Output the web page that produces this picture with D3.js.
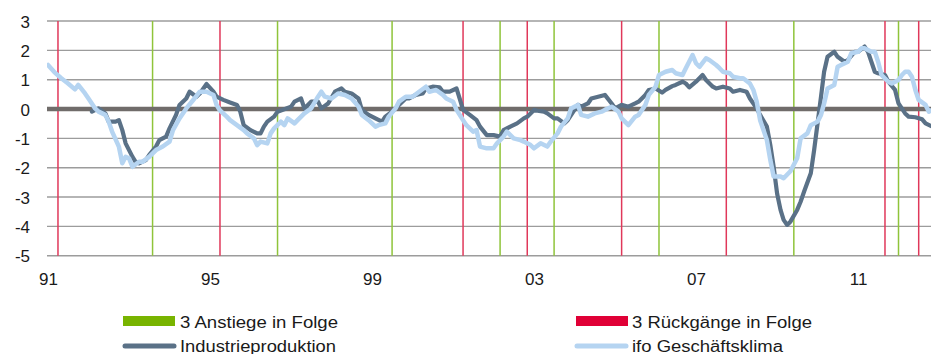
<!DOCTYPE html>
<html><head><meta charset="utf-8">
<script src="https://cdn.jsdelivr.net/npm/d3@7"></script>
<style>
html,body{margin:0;padding:0;background:#fff;}
svg{display:block;font-family:"Liberation Sans",Arial,sans-serif;}
</style></head>
<body><svg id="c" width="931" height="354"></svg>
<script>
// ---- data ----
const startYear = 1991;
const yTicks = [3, 2, 1, 0, -1, -2, -3, -4, -5];
const xTickYears = [1991, 1995, 1999, 2003, 2007, 2011];
const riseMonths = ["1993-08","1996-09","1999-07","2002-03","2003-07","2006-02","2009-06","2012-01"];
const fallMonths = ["1991-04","1995-04","2001-04","2002-11","2005-03","2007-10","2011-09","2012-07"];
const legendLabels = ["3 Anstiege in Folge","3 Rückgänge in Folge","Industrieproduktion","ifo Geschäftsklima"];

// months since Jan 1991
const prodMonths = [13,15,17,18,20,21,22,23,25,26,27,29,30,32,33,35,36,38,39,41,42,44,45,47,49,50,52,54,56,57,58,60,62,63,64,65,67,68,70,72,73,75,76,78,80,81,83,85,87,88,90,92,93,95,97,99,100,102,104,106,107,109,111,112,114,116,117,119,121,122,123,125,127,128,130,132,134,135,137,139,141,142,144,145,147,148,150,151,153,154,156,157,158,160,161,163,165,167,168,170,172,174,175,177,178,180,182,183,185,186,188,189,190,192,194,195,197,198,200,202,203,205,207,208,210,211,213,214,215,216,217,218,219,220,222,223,224,226,227,228,229,230,231,233,234,236,237,239,240,242,243,245,246,248,249,251,252,254,255,257,259,260,262];
const prodValues = [-0.09,0.02,-0.15,-0.43,-0.43,-0.38,-0.72,-1.17,-1.63,-1.80,-1.85,-1.74,-1.57,-1.28,-1.06,-0.94,-0.66,-0.20,0.14,0.36,0.59,0.42,0.53,0.85,0.59,0.42,0.31,0.22,0.14,-0.09,-0.55,-0.72,-0.83,-0.83,-0.60,-0.43,-0.26,-0.09,-0.01,0.08,0.25,0.36,0.02,0.25,0.25,0.02,0.19,0.59,0.70,0.59,0.53,0.36,-0.03,-0.20,-0.32,-0.43,-0.26,-0.09,0.14,0.36,0.36,0.48,0.53,0.70,0.76,0.74,0.59,0.59,0.70,0.36,-0.03,-0.20,-0.38,-0.60,-0.89,-0.89,-0.94,-0.72,-0.60,-0.49,-0.32,-0.26,-0.03,-0.06,-0.09,-0.15,-0.32,-0.32,-0.49,-0.38,-0.03,0.14,0.08,0.19,0.36,0.42,0.48,0.19,0.02,0.14,0.08,0.19,0.25,0.48,0.65,0.70,0.56,0.65,0.78,0.82,0.93,0.87,0.74,0.93,1.16,0.99,0.76,0.70,0.76,0.70,0.59,0.65,0.59,0.36,0.02,-0.20,-0.60,-1.23,-1.97,-2.88,-3.44,-3.78,-3.95,-3.84,-3.44,-3.16,-2.82,-2.19,-1.40,-0.49,0.42,1.27,1.78,1.95,1.78,1.61,1.67,1.95,1.95,2.13,1.95,1.27,1.22,1.16,0.93,0.65,0.19,-0.15,-0.26,-0.28,-0.35,-0.49,-0.60];

const ifoMonths = [0,2,4,6,8,9,11,12,14,15,17,18,19,21,22,23,24,25,27,28,30,32,34,36,37,39,41,43,45,47,49,50,51,53,54,56,58,59,61,62,63,65,66,67,69,70,71,73,74,76,78,80,81,82,84,86,88,90,92,93,95,97,98,100,101,103,104,106,108,110,112,113,115,117,118,120,121,123,124,126,127,128,130,132,133,135,136,138,140,141,143,144,146,148,149,151,152,154,155,157,158,160,162,164,165,167,169,170,172,174,175,177,178,180,181,183,185,186,188,189,191,192,193,195,196,198,199,200,202,203,205,206,208,209,210,211,213,214,215,217,218,220,222,223,225,226,228,229,230,231,233,234,235,237,238,240,241,242,244,245,246,247,249,250,252,253,254,255,256,257,258,260,261,262];
const ifoValues = [1.50,1.25,1.05,0.87,0.67,0.82,0.53,0.36,0.02,-0.09,-0.20,-0.43,-0.77,-1.28,-1.85,-1.63,-1.68,-1.97,-1.80,-1.80,-1.63,-1.40,-1.28,-1.11,-0.72,-0.32,0.02,0.30,0.59,0.59,0.48,0.14,-0.05,-0.26,-0.38,-0.55,-0.72,-0.83,-1.00,-1.23,-1.11,-1.17,-0.83,-0.66,-0.43,-0.55,-0.32,-0.49,-0.38,-0.15,0.02,0.42,0.59,0.42,0.36,0.53,0.48,0.36,0.08,-0.20,-0.38,-0.60,-0.55,-0.49,-0.26,0.02,0.25,0.42,0.42,0.59,0.76,0.59,0.65,0.48,0.36,0.25,-0.03,-0.38,-0.55,-0.77,-0.72,-1.28,-1.34,-1.34,-1.17,-0.94,-0.77,-1.00,-1.06,-1.11,-1.23,-1.34,-1.17,-1.28,-1.11,-0.83,-0.60,-0.32,0.02,0.14,-0.20,-0.26,-0.15,-0.09,-0.03,0.08,-0.09,-0.32,-0.55,-0.26,-0.20,0.14,0.48,0.76,1.16,1.27,1.33,1.22,1.16,1.39,1.84,1.56,1.44,1.73,1.67,1.50,1.39,1.27,1.22,1.10,1.05,1.05,0.87,0.65,0.25,-0.38,-1.06,-1.74,-2.30,-2.30,-2.36,-2.12,-1.68,-1.00,-0.83,-0.55,-0.43,-0.20,0.19,0.70,0.82,1.44,1.50,1.61,1.90,1.95,2.07,2.07,1.95,1.95,1.61,1.16,0.93,0.87,0.99,1.16,1.27,1.27,1.10,0.65,0.31,0.14,-0.09,-0.03];

// ---- chart ----
const svg = d3.select("#c");
const t0 = new Date(startYear, 0, 1);
const mDate = m => d3.timeMonth.offset(t0, m);
const parseM = d3.timeParse("%Y-%m");

const x = d3.scaleTime().domain([t0, new Date(2012, 9, 20)]).range([48, 931]);
const y = d3.scaleLinear().domain([-5, 3]).range([255.7, 21]);
const gridX0 = 47, gridX1 = 931;

svg.append("defs").append("clipPath").attr("id","clip")
  .append("rect").attr("x", gridX0).attr("y", 0).attr("width", gridX1 - gridX0).attr("height", 300);

// horizontal grid
svg.append("g").selectAll("line").data(yTicks.filter(d => d !== 0)).join("line")
  .attr("x1", gridX0).attr("x2", gridX1)
  .attr("y1", d => y(d)).attr("y2", d => y(d))
  .attr("stroke", "#9c9c9c").attr("stroke-width", 1.4);

// y labels
svg.append("g").selectAll("text").data(yTicks).join("text")
  .attr("x", 30).attr("y", d => y(d) + 6.5)
  .attr("text-anchor", "end").attr("font-size", 17).attr("fill", "#1a1a1a")
  .text(d => d);

// x axis labels
const xAxis = d3.axisBottom(x)
  .tickValues(xTickYears.map(yr => new Date(yr, 0, 1)))
  .tickFormat(d3.timeFormat("%y")).tickSize(0).tickPadding(0);
const gx = svg.append("g").attr("transform", "translate(0,272)").call(xAxis);
gx.select(".domain").remove();
gx.selectAll("text").attr("font-size", 17).attr("fill", "#1a1a1a")
  .attr("font-family", "'Liberation Sans',Arial,sans-serif").attr("dy", "0.75em");

// vertical event lines
svg.append("g").selectAll("line").data(riseMonths).join("line")
  .attr("x1", d => x(parseM(d))).attr("x2", d => x(parseM(d)))
  .attr("y1", y(3)).attr("y2", y(-5))
  .attr("stroke", "#8fc43a").attr("stroke-width", 1.5);
svg.append("g").selectAll("line").data(fallMonths).join("line")
  .attr("x1", d => x(parseM(d))).attr("x2", d => x(parseM(d)))
  .attr("y1", y(3)).attr("y2", y(-5))
  .attr("stroke", "#e0385a").attr("stroke-width", 1.5);

// zero line
svg.append("line").attr("x1", gridX0).attr("x2", gridX1)
  .attr("y1", y(0)).attr("y2", y(0))
  .attr("stroke", "#706c6a").attr("stroke-width", 4.5);

const line = d3.line().x(d => x(mDate(d[0]))).y(d => y(d[1]));
const plot = svg.append("g").attr("clip-path", "url(#clip)");
plot.append("path").datum(d3.zip(prodMonths, prodValues))
  .attr("d", line).attr("fill", "none")
  .attr("stroke", "#5a7187").attr("stroke-width", 4.2)
  .attr("stroke-linejoin", "round").attr("stroke-linecap", "round");
plot.append("path").datum(d3.zip(ifoMonths, ifoValues))
  .attr("d", line).attr("fill", "none")
  .attr("stroke", "#b5d4f1").attr("stroke-width", 4.5)
  .attr("stroke-linejoin", "round").attr("stroke-linecap", "round");

// legend
const lg = svg.append("g");
const items = [
  {type:"rect", color:"#78b400", x:123, tx:180, y:316, label:legendLabels[0], w:158},
  {type:"rect", color:"#e00036", x:576, tx:632, y:316, label:legendLabels[1], w:180},
  {type:"line", color:"#5a7187", x:123, tx:180, y:346, label:legendLabels[2], w:156},
  {type:"line", color:"#b5d4f1", x:575, tx:632, y:346, label:legendLabels[3], w:151}
];
items.forEach(it => {
  if (it.type === "rect") {
    lg.append("rect").attr("x", it.x).attr("y", it.y).attr("width", 52).attr("height", 10).attr("fill", it.color);
    lg.append("text").attr("x", it.tx).attr("y", 327.5).attr("font-size", 16).attr("fill", "#1a1a1a")
      .attr("textLength", it.w).attr("lengthAdjust", "spacingAndGlyphs").text(it.label);
  } else {
    lg.append("line").attr("x1", it.x + 2).attr("x2", it.x + 51).attr("y1", it.y).attr("y2", it.y)
      .attr("stroke", it.color).attr("stroke-width", 5).attr("stroke-linecap", "round");
    lg.append("text").attr("x", it.tx).attr("y", 351.5).attr("font-size", 16).attr("fill", "#1a1a1a")
      .attr("textLength", it.w).attr("lengthAdjust", "spacingAndGlyphs").text(it.label);
  }
});
</script></body></html>
